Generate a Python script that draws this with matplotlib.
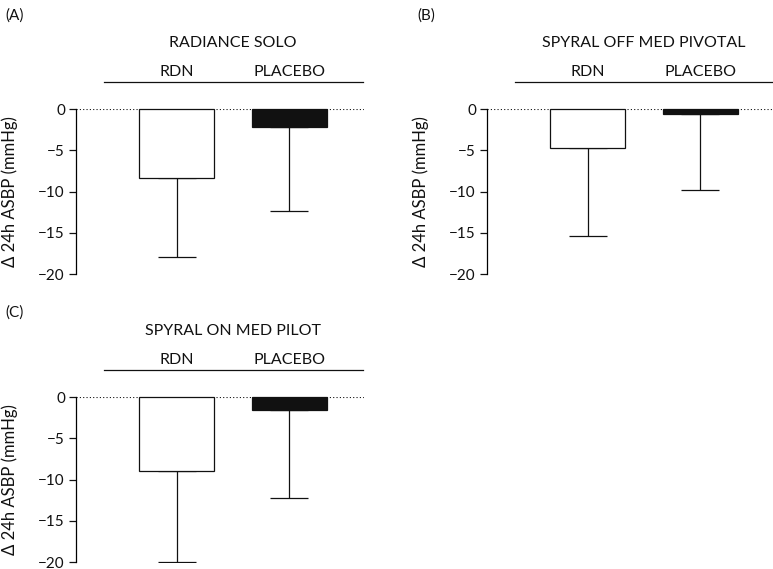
import matplotlib.pyplot as plt
import numpy as np

plt.rcParams['font.family'] = ['Lato', 'DejaVu Sans']
plt.rcParams['axes.unicode_minus'] = True

groups = ['RDN', 'PLACEBO']
titles = ['RADIANCE SOLO', 'SPYRAL OFF MED PIVOTAL', 'SPYRAL ON MED PILOT']
letters = ['(A)', '(B)', '(C)']
means_a = [-8.4, -2.2]
sd_a = [9.5, 10.1]
means_b = [-4.7, -0.6]
sd_b = [10.7, 9.2]
means_c = [-8.9, -1.5]
sd_c = [11.1, 10.7]
yticks = [0, -5, -10, -15, -20]

W, H = 773, 569
fig = plt.figure(figsize=(W / 100, H / 100), dpi=100)
ink = '#111111'

def panel(left, top0, mean, sd, title, letter, letter_y):
    # left: spine x in px, top0: y pixel of the zero line
    bottom_px = top0 + 164.7
    ax = fig.add_axes([left / W, 1 - bottom_px / H, 288 / W, 164.7 / H])
    x = np.arange(len(groups))
    ax.set_xlim(-0.89, 1.66)
    ax.set_ylim(-20, 0)
    ax.bar(x, mean, width=0.66, color=['white', ink], edgecolor=ink,
           linewidth=0.9, clip_on=False, zorder=3)
    ax.errorbar(x, mean, yerr=[sd, [0, 0]], fmt='none', ecolor=ink,
                elinewidth=0.9, capsize=13.5, capthick=0.9, zorder=2)
    ax.axhline(0, color=ink, linestyle=(0, (1, 2)), linewidth=0.8, zorder=1)
    for s in ['top', 'right', 'bottom']:
        ax.spines[s].set_visible(False)
    ax.spines['left'].set_linewidth(0.9)
    ax.set_xticks([])
    ax.set_yticks(yticks)
    ax.set_yticklabels(['0', '\u22125', '\u221210', '\u221215', '\u221220'])
    ax.tick_params(axis='y', length=5, width=0.9, labelsize=11, pad=3, colors=ink)
    ax.set_ylabel('\u0394 24h ASBP (mmHg)', fontsize=12, color=ink)
    ax.yaxis.set_label_coords(-0.2, 0.5)
    # header above the plot
    for xi, g in zip(x, groups):
        ax.text(xi, 4.5, g, ha='center', va='center', fontsize=11.5, color=ink, clip_on=False)
    ax.text(0.5, 8.1, title, ha='center', va='center', fontsize=11.5, color=ink, clip_on=False)
    ax.plot([-0.64, 1.65], [3.3, 3.3], color=ink, linewidth=0.9, clip_on=False)
    ax.text(-1.43, letter_y, letter, ha='center', va='center', fontsize=11,
            color=ink, clip_on=False)
    return ax

panel(76, 109.3, means_a, sd_a, titles[0], letters[0], 11.4)
panel(487, 109.3, means_b, sd_b, titles[1], letters[1], 11.4)
panel(76, 397.3, means_c, sd_c, titles[2], letters[2], 10.3)

fig.savefig('out.png', dpi=100)
